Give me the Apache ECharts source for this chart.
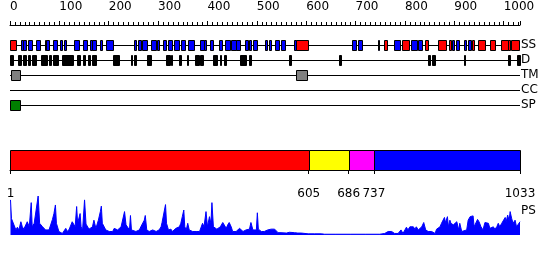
<!DOCTYPE html>
<html><head><meta charset="utf-8">
<script src="https://cdn.jsdelivr.net/npm/echarts@6/dist/echarts.min.js"></script>
<style>html,body{margin:0;padding:0;background:#fff}#c{width:550px;height:260px}</style>
</head><body><div id="c"></div>
<script>
const LENGTH = 1033;
const trackNames = ['SS', 'D', 'TM', 'CC', 'SP'];
// secondary structure: helix (red) and strand (blue) segments, residues
const ssHelix = [[1,13],[579,603],[758,763],[793,808],[840,846],[866,883],[889,894],[936,940],[948,963],[973,982],[994,1008],[1009,1012],[1014,1030]];
const ssStrand = [[23,26],[27,32],[37,45],[53,61],[70,73],[73,78],[87,96],[101,105],[110,113],[129,139],[147,155],[162,167],[167,174],[182,187],[194,209],
  [251,255],[260,266],[268,277],[286,296],[298,302],[310,315],[321,329],[333,343],[347,354],[360,373],[385,392],[392,398],[406,412],[423,430],[436,445],
  [447,457],[457,466],[475,482],[484,489],[493,501],[516,520],[524,528],[536,544],[548,556],[575,579],[693,700],[704,713],[746,748],[778,789],[813,824],
  [827,834],[895,899],[904,909],[920,923],[928,934]];
const disorder = [[1,6],[17,22],[26,32],[37,41],[45,52],[63,74],[78,83],[87,97],[105,128],[136,141],[147,152],[158,162],[167,174],[208,220],[246,248],
  [251,255],[278,285],[316,325],[327,329],[343,346],[358,361],[374,382],[384,390],[412,420],[426,428],[434,438],[465,478],[484,489],[566,570],[666,670],
  [847,851],[855,861],[919,921],[1009,1012],[1027,1033]];
const transmembrane = [[2,20],[579,602]];
const coiledCoil = [];
const signalPeptide = [[1,21]];
const domainBounds = [1, 605, 686, 737, 1033];
const domainTicks = [1, 605, 686, 737, 1033];
const psPos = [1,3,7,12,15,18,22,25,28,32,35,39,43,45,49,52,57,60,66,69,72,76,79,83,86,89,92,94,99,106,113,116,120,123,126,130,132,135,137,140,142,144,147,151,154,157,160,164,167,170,174,179,181,183,185,187,191,194,198,201,208,211,214,218,221,225,228,232,235,238,242,244,246,248,255,262,265,269,272,274,277,282,286,289,292,296,299,302,306,308,311,315,317,321,326,329,333,336,340,343,346,349,352,354,357,360,363,367,370,377,380,384,390,393,397,400,404,407,409,412,416,419,423,426,428,431,434,438,441,444,448,451,458,461,465,468,472,475,478,482,485,488,492,495,499,501,503,505,509,512,515,519,522,526,529,532,536,539,543,549,553,560,566,570,576,583,590,604,617,631,637,660,690,720,749,752,759,766,773,776,779,786,792,796,803,806,810,813,817,820,823,827,834,838,842,847,850,854,861,864,867,871,874,877,880,882,886,888,891,893,898,901,905,907,909,911,915,918,925,928,932,935,938,940,944,947,950,954,958,962,965,969,972,976,979,982,986,989,992,996,1000,1003,1005,1008,1011,1013,1016,1019,1023,1026,1030,1033];
const psVal = [.90,.42,.45,.13,.20,.13,.34,.21,.15,.26,.34,.21,.83,.21,.30,.34,1.0,.30,.21,.17,.13,.17,.13,.09,.40,.55,.77,.30,.09,.04,.17,.09,.15,.13,.34,.37,.21,.73,.30,.32,.55,.21,.13,.90,.28,.30,.15,.13,.21,.38,.17,.38,.43,.60,.74,.30,.30,.13,.09,.09,.09,.17,.13,.13,.13,.21,.17,.60,.26,.21,.13,.50,.13,.09,.09,.13,.21,.26,.38,.50,.13,.09,.04,.13,.13,.09,.09,.13,.21,.32,.30,.78,.30,.13,.15,.09,.09,.17,.17,.21,.30,.47,.64,.21,.13,.30,.13,.09,.09,.09,.13,.09,.30,.21,.60,.21,.47,.30,.83,.21,.17,.15,.17,.21,.17,.32,.30,.17,.26,.32,.21,.09,.09,.13,.17,.15,.09,.09,.13,.09,.15,.32,.13,.17,.13,.57,.15,.13,.09,.06,.09,.13,.13,.15,.15,.13,.15,.12,.06,.06,.09,.05,.07,.05,.06,.05,.05,.03,.03,.03,.02,.02,.02,.02,.02,.06,.04,.09,.09,.11,.04,.04,.13,.04,.20,.13,.21,.17,.21,.15,.21,.13,.21,.32,.13,.09,.13,.09,.04,.15,.13,.21,.30,.34,.45,.32,.47,.21,.38,.30,.26,.21,.34,.23,.13,.30,.09,.09,.13,.38,.47,.51,.49,.21,.21,.40,.34,.21,.13,.32,.37,.30,.17,.13,.21,.15,.21,.30,.21,.30,.26,.45,.34,.51,.37,.60,.43,.30,.38,.21,.26,.34];

const FONT = 'DejaVu Sans';
const domainColors = ['#ff0000', '#ffff00', '#ff00ff', '#0000ff'];
const px = v => Math.round(v) + 0.5;
const plain = v => String(v);

function boxSeries(segs, track, fill) {
  return {
    type: 'custom', xAxisIndex: 1, yAxisIndex: 1, z: 3,
    data: segs.map(s => [s[0], s[1], track]),
    encode: { x: [0, 1], y: 2 },
    renderItem: (p, api) => {
      const t = api.value(2);
      const a = api.coord([api.value(0), t - 1 / 3]);
      const b = api.coord([api.value(1), t + 1 / 3]);
      const x1 = px(a[0]), x2 = Math.max(px(b[0]), x1 + 1);
      const y1 = px(a[1]), y2 = px(b[1]);
      return { type: 'rect', shape: { x: x1, y: y1, width: x2 - x1, height: y2 - y1 },
        style: { fill: fill, stroke: '#000', lineWidth: 1 } };
    }
  };
}

const chart = echarts.init(document.getElementById('c'), null, { renderer: 'canvas' });
chart.setOption({
  animation: false,
  backgroundColor: '#fff',
  grid: [
    { left: 10, width: 510, top: 15, height: 10 },
    { left: 10, width: 510, top: 30, height: 90 },
    { left: 10, width: 510, top: 150, height: 20 },
    { left: 10, width: 510, top: 196, height: 39 }
  ],
  xAxis: [
    { gridIndex: 0, type: 'value', min: 0, max: LENGTH, interval: 100, position: 'top',
      axisLine: { show: true, lineStyle: { color: '#000', width: 1 } },
      axisTick: { show: true, length: 4, lineStyle: { color: '#000' } },
      minorTick: { show: true, splitNumber: 10, length: 3, lineStyle: { color: '#000' } },
      axisLabel: { show: true, fontFamily: FONT, fontSize: 12, color: '#000', align: 'left', margin: 2, showMaxLabel: false, formatter: plain },
      splitLine: { show: false } },
    { gridIndex: 1, type: 'value', min: 0, max: LENGTH, show: false },
    { gridIndex: 2, type: 'value', min: 0, max: LENGTH, position: 'bottom', offset: 10,
      axisLine: { show: true, lineStyle: { color: '#000', width: 1 } },
      axisTick: { show: true, length: 4, customValues: domainTicks, lineStyle: { color: '#000' } },
      axisLabel: { show: true, customValues: domainTicks, fontFamily: FONT, fontSize: 12, color: '#000', margin: 8, formatter: plain },
      splitLine: { show: false } },
    { gridIndex: 3, type: 'value', min: 0, max: LENGTH, show: false }
  ],
  yAxis: [
    { gridIndex: 0, type: 'value', min: 0, max: 1, show: false },
    { gridIndex: 1, type: 'value', min: 0, max: 6, interval: 1, inverse: true, position: 'right',
      axisLine: { show: false }, axisTick: { show: false }, splitLine: { show: false },
      axisLabel: { show: true, margin: 1, fontFamily: FONT, fontSize: 12, color: '#000',
        formatter: v => trackNames[v - 1] || '' } },
    { gridIndex: 2, type: 'value', min: 0, max: 1, show: false },
    { gridIndex: 3, type: 'value', min: 0, max: 1, show: false }
  ],
  series: [
    { type: 'custom', xAxisIndex: 1, yAxisIndex: 1, z: 2,
      data: trackNames.map((n, i) => [0, LENGTH, i + 1]),
      encode: { x: [0, 1], y: 2 },
      renderItem: (p, api) => {
        const a = api.coord([api.value(0), api.value(2)]);
        const b = api.coord([api.value(1), api.value(2)]);
        return { type: 'line', shape: { x1: a[0], y1: px(a[1]), x2: b[0], y2: px(b[1]) },
          style: { stroke: '#000', lineWidth: 1 } };
      } },
    boxSeries(ssHelix, 1, '#ff0000'),
    boxSeries(ssStrand, 1, '#0000ff'),
    boxSeries(disorder, 2, '#000000'),
    boxSeries(transmembrane, 3, '#808080'),
    boxSeries(coiledCoil, 4, '#00aa00'),
    boxSeries(signalPeptide, 5, '#008000'),
    { type: 'custom', xAxisIndex: 2, yAxisIndex: 2,
      data: domainBounds.slice(0, -1).map((s, i) => [s, domainBounds[i + 1], i]),
      encode: { x: [0, 1] },
      renderItem: (p, api) => {
        const a = api.coord([api.value(0), 1]);
        const b = api.coord([api.value(1), 0]);
        const x1 = px(a[0]), x2 = px(b[0]);
        return { type: 'rect', shape: { x: x1, y: px(a[1]), width: x2 - x1, height: px(b[1]) - px(a[1]) },
          style: { fill: domainColors[api.value(2)], stroke: '#000', lineWidth: 1 } };
      } },
    { type: 'line', xAxisIndex: 3, yAxisIndex: 3, showSymbol: false, symbol: 'none',
      data: psPos.map((p, i) => [p, psVal[i]]),
      lineStyle: { color: '#0000ff', width: 1 },
      areaStyle: { color: '#0000ff', opacity: 1 } }
  ],
  graphic: [
    { type: 'text', left: 521, top: 205, style: { text: 'PS', font: '12px "DejaVu Sans"', fill: '#000' } }
  ]
});
</script>
</body></html>
